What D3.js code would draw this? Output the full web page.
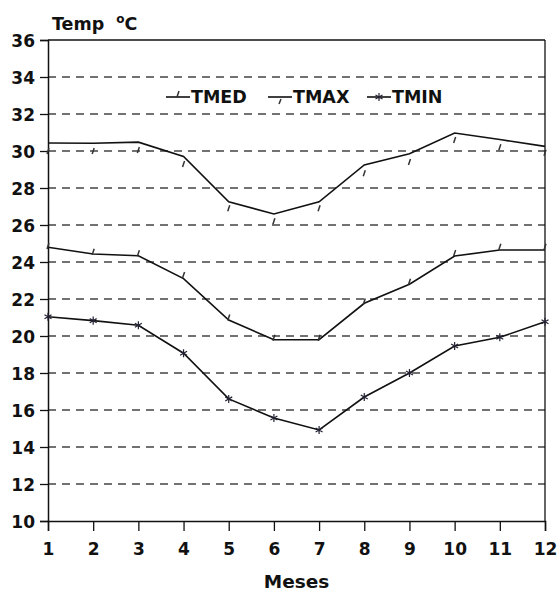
<!DOCTYPE html>
<html>
<head>
<meta charset="utf-8">
<title>Temp</title>
<script src="https://cdn.jsdelivr.net/npm/d3@7"></script>
<style>
  body { margin: 0; background: #fff; }
  text { font-family: "DejaVu Sans", sans-serif; font-weight: bold; fill: #111; }
</style>
</head>
<body>
<script>
var months = [1, 2, 3, 4, 5, 6, 7, 8, 9, 10, 11, 12];
var yTicks = [10, 12, 14, 16, 18, 20, 22, 24, 26, 28, 30, 32, 34, 36];

// TMAX: line and its (offset) markers
var tmaxLine = [30.43, 30.42, 30.48, 29.7, 27.25, 26.6, 27.25, 29.25, 29.85, 30.97, 30.62, 30.25];
var tmaxMark = [30.0, 30.0, 30.05, 29.3, 26.9, 26.2, 26.9, 28.8, 29.4, 30.6, 30.2, 29.9];
// TMED
var tmedLine = [24.8, 24.43, 24.34, 23.1, 20.86, 19.8, 19.8, 21.77, 22.8, 24.32, 24.65, 24.65];
var tmedMark = [24.86, 24.56, 24.47, 23.3, 21.0, 19.9, 19.9, 21.86, 22.93, 24.49, 24.83, 24.83];
// TMIN
var tminLine = [21.04, 20.83, 20.58, 19.07, 16.6, 15.57, 14.92, 16.7, 18.0, 19.46, 19.93, 20.77];

var width = 560, height = 593;
var padding = {left: 48, right: 15, top: 40, bottom: 72};

var svg = d3.select('body').append('svg')
  .attr('width', width).attr('height', height);

var xScale = d3.scaleLinear().domain([1, 12]).range([padding.left, width - padding.right]);
var yScale = d3.scaleLinear().domain([10, 36]).range([height - padding.bottom, padding.top]);

// dashed grid
svg.append('g').selectAll('line')
  .data(yTicks.filter(function(d){ return d > 10 && d < 36; }))
  .enter().append('line')
  .attr('x1', padding.left).attr('x2', width - padding.right)
  .attr('y1', function(d){ return yScale(d); })
  .attr('y2', function(d){ return yScale(d); })
  .attr('stroke', '#444').attr('stroke-width', 1.3)
  .attr('stroke-dasharray', '8,6');

// frame top and right
svg.append('line')
  .attr('x1', padding.left).attr('x2', width - padding.right)
  .attr('y1', yScale(36)).attr('y2', yScale(36))
  .attr('stroke', '#111').attr('stroke-width', 1.3);
svg.append('line')
  .attr('x1', width - padding.right).attr('x2', width - padding.right)
  .attr('y1', yScale(36)).attr('y2', yScale(10))
  .attr('stroke', '#111').attr('stroke-width', 1.3);

var yAxis = d3.axisLeft(yScale).tickValues(yTicks).tickSize(8).tickPadding(5);
var xAxis = d3.axisBottom(xScale).tickValues(months).tickSize(10).tickPadding(12);

var gy = svg.append('g')
  .attr('transform', 'translate(' + padding.left + ',0)')
  .call(yAxis);
var gx = svg.append('g')
  .attr('transform', 'translate(0,' + (height - padding.bottom) + ')')
  .call(xAxis);

[gx, gy].forEach(function(g){
  g.select('.domain').attr('stroke', '#111').attr('stroke-width', 1.5);
  g.selectAll('.tick line').attr('stroke', '#111').attr('stroke-width', 1.3);
  g.selectAll('.tick text')
    .style('font-family', '"DejaVu Sans", sans-serif')
    .style('font-weight', 'bold').style('font-size', '17px').attr('fill', '#111');
});
gy.selectAll('.tick text').attr('dy', '0.36em');

var line = d3.line()
  .x(function(d, i){ return xScale(months[i]); })
  .y(function(d){ return yScale(d); });

[tmaxLine, tmedLine, tminLine].forEach(function(s){
  svg.append('path').datum(s)
    .attr('d', line)
    .attr('fill', 'none')
    .attr('stroke', '#111').attr('stroke-width', 1.6);
});

// markers
function slash(g, data, cls) {
  g.selectAll('.' + cls).data(data).enter().append('line')
    .attr('class', cls)
    .attr('x1', function(d, i){ return xScale(months[i]) - 1; })
    .attr('x2', function(d, i){ return xScale(months[i]) + 1; })
    .attr('y1', function(d){ return yScale(d) + 3; })
    .attr('y2', function(d){ return yScale(d) - 3; })
    .attr('stroke', '#333').attr('stroke-width', 1.5);
}
slash(svg, tmaxMark, 'mmax');
slash(svg, tmedMark, 'mmed');

var star = d3.symbol().type(d3.symbolAsterisk).size(45);
svg.selectAll('.mmin').data(tminLine).enter().append('path')
  .attr('class', 'mmin')
  .attr('d', star)
  .attr('transform', function(d, i){ return 'translate(' + xScale(months[i]) + ',' + yScale(d) + ')'; })
  .attr('fill', 'none').attr('stroke', '#223').attr('stroke-width', 1.2);

// legend
var legend = [
  {name: 'TMED', x: 166},
  {name: 'TMAX', x: 268},
  {name: 'TMIN', x: 367}
];
var ly = 97;
legend.forEach(function(l, k){
  svg.append('line')
    .attr('x1', l.x).attr('x2', l.x + 24)
    .attr('y1', ly).attr('y2', ly)
    .attr('stroke', '#111').attr('stroke-width', 1.6);
  var cx = l.x + 12;
  if (k === 0) {
    svg.append('line').attr('x1', cx - 1).attr('x2', cx + 1)
      .attr('y1', ly).attr('y2', ly - 6)
      .attr('stroke', '#333').attr('stroke-width', 1.5);
  } else if (k === 1) {
    svg.append('line').attr('x1', cx - 1).attr('x2', cx + 1)
      .attr('y1', ly + 7).attr('y2', ly + 2)
      .attr('stroke', '#333').attr('stroke-width', 1.5);
  } else {
    svg.append('path').attr('d', star)
      .attr('transform', 'translate(' + cx + ',' + ly + ')')
      .attr('fill', 'none').attr('stroke', '#223').attr('stroke-width', 1.2);
  }
  svg.append('text')
    .attr('x', l.x + 25).attr('y', ly + 6)
    .style('font-size', '17.5px')
    .text(l.name);
});

// axis titles
var yt = svg.append('text').attr('x', 52).attr('y', 30).style('font-size', '17.5px');
yt.append('tspan').text('Temp');
yt.append('tspan').attr('dx', 12).attr('dy', -7).style('font-size', '12px').text('o');
yt.append('tspan').attr('dy', 7).text('C');

svg.append('text')
  .attr('x', (padding.left + width - padding.right) / 2)
  .attr('y', 588)
  .attr('text-anchor', 'middle')
  .style('font-size', '18.5px')
  .text('Meses');
</script>
</body>
</html>
